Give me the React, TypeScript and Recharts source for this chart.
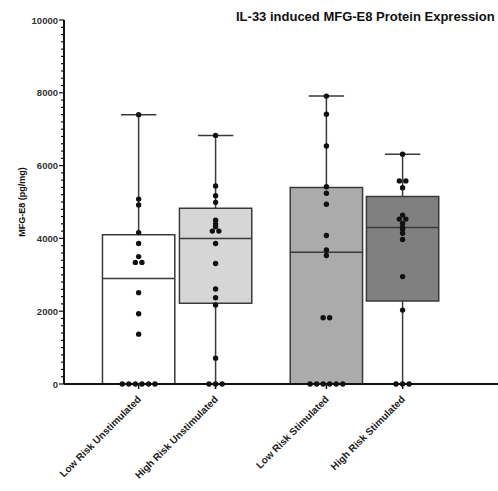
import { ComposedChart, XAxis, YAxis, Scatter, ReferenceArea, ReferenceLine } from 'recharts';

// groups in plot order
const groups = ['Low Risk Unstimulated', 'High Risk Unstimulated', 'Low Risk Stimulated', 'High Risk Stimulated'];
const positions = [1, 2, 3.44, 4.43];

// box summary (pg/mg)
const mins = [0, 0, 0, 0];
const q1s = [0, 2220, 0, 2280];
const medians = [2900, 4000, 3620, 4300];
const q3s = [4100, 4830, 5400, 5150];
const maxes = [7400, 6830, 7910, 6310];

// individual samples
const lowRiskUnstim = [7400, 5080, 4920, 4160, 3860, 3500, 3340, 3340, 2510, 1930, 1370, 0, 0, 0, 0, 0, 0];
const highRiskUnstim = [6830, 5440, 5170, 4990, 4500, 4400, 4320, 4200, 4200, 3860, 3310, 2610, 2370, 2170, 710, 0, 0, 0];
const lowRiskStim = [7910, 7410, 6540, 5420, 5240, 4940, 4080, 3680, 3530, 1820, 1820, 0, 0, 0, 0, 0, 0];
const highRiskStim = [6310, 5580, 5580, 5390, 4640, 4530, 4530, 4410, 4300, 4250, 4140, 3970, 2950, 2030, 0, 0, 0];

const samples = [lowRiskUnstim, highRiskUnstim, lowRiskStim, highRiskStim];
const fills = ['#ffffff', '#d6d6d6', '#ababab', '#808080'];

const yTicks = Array.from({ length: 51 }, (_, i) => i * 200);

const FONT = '"Liberation Sans", Arial, sans-serif';
const BOX_HALF = 0.47;
const CAP_HALF = 0.23;
const DOT_STEP = 0.085;
const EDGE = '#3a3a3a';

// spread identical values side by side, like a dot plot
function spread(values: number[], pos: number) {
  const counts: Record<number, number> = {};
  values.forEach((v) => (counts[v] = (counts[v] || 0) + 1));
  const seen: Record<number, number> = {};
  return values.map((v) => {
    const i = (seen[v] = (seen[v] ?? -1) + 1);
    return { x: pos + (i - (counts[v] - 1) / 2) * DOT_STEP, y: v };
  });
}

const Dot = (props: any) => <circle cx={props.cx} cy={props.cy} r={2.7} fill="#111" />;

const XTick = ({ x, y, payload }: any) => {
  const i = positions.indexOf(payload.value);
  return (
    <g transform={`translate(${x},${y})`}>
      <line x1={0} y1={0} x2={0} y2={5} stroke="#111" strokeWidth={1.5} />
      <text
        transform="translate(3,16) rotate(-45)"
        textAnchor="end"
        fontSize={10}
        fontWeight="bold"
        fontFamily={FONT}
        fill="#222"
      >
        {groups[i]}
      </text>
    </g>
  );
};

const YTick = ({ x, y, payload }: any) => {
  const major = payload.value % 2000 === 0;
  return (
    <g>
      <line x1={x - (major ? 5 : 3)} x2={x} y1={y} y2={y} stroke="#111" strokeWidth={1.2} />
      {major && (
        <text x={x - 6} y={y} dy={3.5} textAnchor="end" fontSize={9.5} fontWeight="bold" fontFamily={FONT} fill="#333">
          {payload.value}
        </text>
      )}
    </g>
  );
};

export default function App() {
  return (
    <div style={{ position: 'absolute', left: 0, top: 0, width: 498, height: 491, background: '#fff' }}>
      <div
        style={{
          position: 'absolute',
          left: 236,
          top: 9,
          fontFamily: FONT,
          fontWeight: 'bold',
          fontSize: 13,
          whiteSpace: 'nowrap',
          color: '#111',
        }}
      >
        IL-33 induced MFG-E8 Protein Expression
      </div>
      <ComposedChart width={498} height={491} margin={{ top: 20, right: 0, bottom: 0, left: 0 }}>
        <XAxis
          type="number"
          dataKey="x"
          domain={[0.03, 5.67]}
          ticks={positions}
          interval={0}
          allowDataOverflow
          height={107}
          tickSize={0}
          tickMargin={0}
          tick={<XTick />}
          axisLine={{ stroke: '#111', strokeWidth: 2 }}
        />
        <YAxis
          type="number"
          dataKey="y"
          domain={[0, 10000]}
          ticks={yTicks}
          interval={0}
          width={64}
          tickSize={0}
          tickMargin={0}
          tick={<YTick />}
          axisLine={{ stroke: '#111', strokeWidth: 2 }}
          label={{
            value: 'MFG-E8 (pg/mg)',
            angle: -90,
            position: 'insideLeft',
            offset: 22,
            style: { fontFamily: FONT, fontWeight: 'bold', fontSize: 9, fill: '#111', textAnchor: 'middle' },
          }}
        />
        {positions.map((p, i) => (
          <ReferenceArea
            key={`box-${i}`}
            x1={p - BOX_HALF}
            x2={p + BOX_HALF}
            y1={q1s[i]}
            y2={q3s[i]}
            fill={fills[i]}
            fillOpacity={1}
            stroke={EDGE}
            strokeWidth={1.5}
          />
        ))}
        {positions.map((p, i) => (
          <ReferenceLine
            key={`med-${i}`}
            segment={[{ x: p - BOX_HALF, y: medians[i] }, { x: p + BOX_HALF, y: medians[i] }]}
            stroke={EDGE}
            strokeWidth={1.5}
          />
        ))}
        {positions.map((p, i) => (
          <ReferenceLine
            key={`wup-${i}`}
            segment={[{ x: p, y: q3s[i] }, { x: p, y: maxes[i] }]}
            stroke={EDGE}
            strokeWidth={1.5}
          />
        ))}
        {positions.map((p, i) =>
          q1s[i] > mins[i] ? (
            <ReferenceLine
              key={`wdn-${i}`}
              segment={[{ x: p, y: mins[i] }, { x: p, y: q1s[i] }]}
              stroke={EDGE}
              strokeWidth={1.5}
            />
          ) : null
        )}
        {positions.map((p, i) => (
          <ReferenceLine
            key={`cap-${i}`}
            segment={[{ x: p - CAP_HALF, y: maxes[i] }, { x: p + CAP_HALF, y: maxes[i] }]}
            stroke={EDGE}
            strokeWidth={1.5}
          />
        ))}
        {samples.map((vals, i) => (
          <Scatter
            key={`pts-${i}`}
            data={spread(vals, positions[i])}
            shape={<Dot />}
            isAnimationActive={false}
          />
        ))}
      </ComposedChart>
    </div>
  );
}
